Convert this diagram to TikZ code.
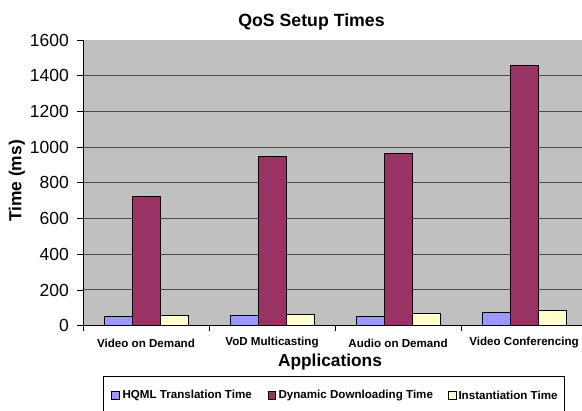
\documentclass[tikz,border=0pt]{standalone}
\usepackage{fontspec}
\setmainfont{Liberation Sans}
\definecolor{plotgray}{HTML}{C0C0C0}
\definecolor{hqml}{HTML}{9999FF}
\definecolor{dyn}{HTML}{993366}
\definecolor{inst}{HTML}{FFFFCC}
\tikzset{
  bar/.style={draw=black, line width=0.7pt},
  gridln/.style={draw=black!70, line width=1pt},
  axisln/.style={draw=black, line width=0.8pt},
  ticklbl/.style={font=\fontsize{17.5}{20}\selectfont, anchor=east, inner sep=0pt},
  catlbl/.style={font=\fontsize{11.6}{13}\selectfont\bfseries, inner sep=0pt},
  leglbl/.style={font=\fontsize{11.6}{13}\selectfont\bfseries, anchor=west, inner sep=0pt},
  legmark/.style={draw=black, line width=0.6pt, minimum size=7.5pt, inner sep=0pt},
}
\begin{document}
\begin{tikzpicture}[x=1pt,y=-1pt]
\useasboundingbox (0,0) rectangle (582,411);
\fill[white] (0,0) rectangle (582,411);
% plot area
\fill[plotgray] (83,40) rectangle (587,325.7);
\draw[black!25, line width=0.8pt] (83,40) -- (587,40);
\begin{scope}[shift={(0,325.7)}, y={(0pt,0.17856pt)}]
  \foreach \v in {200,400,...,1400} {
    \draw[gridln] (83,\v) -- (587,\v);
  }
  \foreach \v in {0,200,...,1600} {
    \draw[axisln] (77,\v) -- (83,\v);
    \node[ticklbl] (t\v) at (69,\v) {\v};
  }
  % bars
  \foreach \c/\a/\b/\d [count=\i] in {146/54/722/58, 272/58/946/63, 398/50/965/67, 524/75/1458/84} {
    \filldraw[bar, fill=hqml] (\c-42,0) rectangle (\c-14,\a);
    \filldraw[bar, fill=dyn] (\c-14,0) rectangle (\c+14,\b);
    \filldraw[bar, fill=inst] (\c+14,0) rectangle (\c+42,\d);
  }
\end{scope}
% axes
\draw[axisln] (83,40) -- (83,331);
\draw[axisln] (83,325.7) -- (587,325.7);
\foreach \x in {209,335,461} {
  \draw[axisln] (\x,325.7) -- (\x,331);
}
% title and labels
\node[font=\fontsize{17.7}{20}\selectfont\bfseries, inner sep=0pt] (title) at (311.5,21.5) {QoS Setup Times};
\node[font=\fontsize{17.4}{20}\selectfont\bfseries, rotate=90, inner sep=0pt] (ylab) at (17,181) {Time (ms)};
\node[font=\fontsize{17.3}{20}\selectfont\bfseries, inner sep=0pt] (xlab) at (330,362.5) {Applications};
\node[catlbl] (c1) at (146,343) {Video on Demand};
\node[catlbl] (c2) at (272,343) {VoD Multicasting};
\node[catlbl] (c3) at (398,343) {Audio on Demand};
\node[catlbl] (c4) at (524,343) {Video Conferencing};
% legend
\draw[black, line width=0.8pt, fill=white] (103.3,415) -- (103.3,376.7) -- (564.3,376.7) -- (564.3,415);
\node[legmark, fill=hqml] (m1) at (115.5,395.3) {};
\node[leglbl] (l1) at (122.3,395.3) {HQML Translation Time};
\node[legmark, fill=dyn] (m2) at (272,395.3) {};
\node[leglbl] (l2) at (278.3,395.3) {Dynamic Downloading Time};
\node[legmark, fill=inst] (m3) at (452.3,395.3) {};
\node[leglbl] (l3) at (458.3,395.3) {Instantiation Time};
\end{tikzpicture}
\end{document}
